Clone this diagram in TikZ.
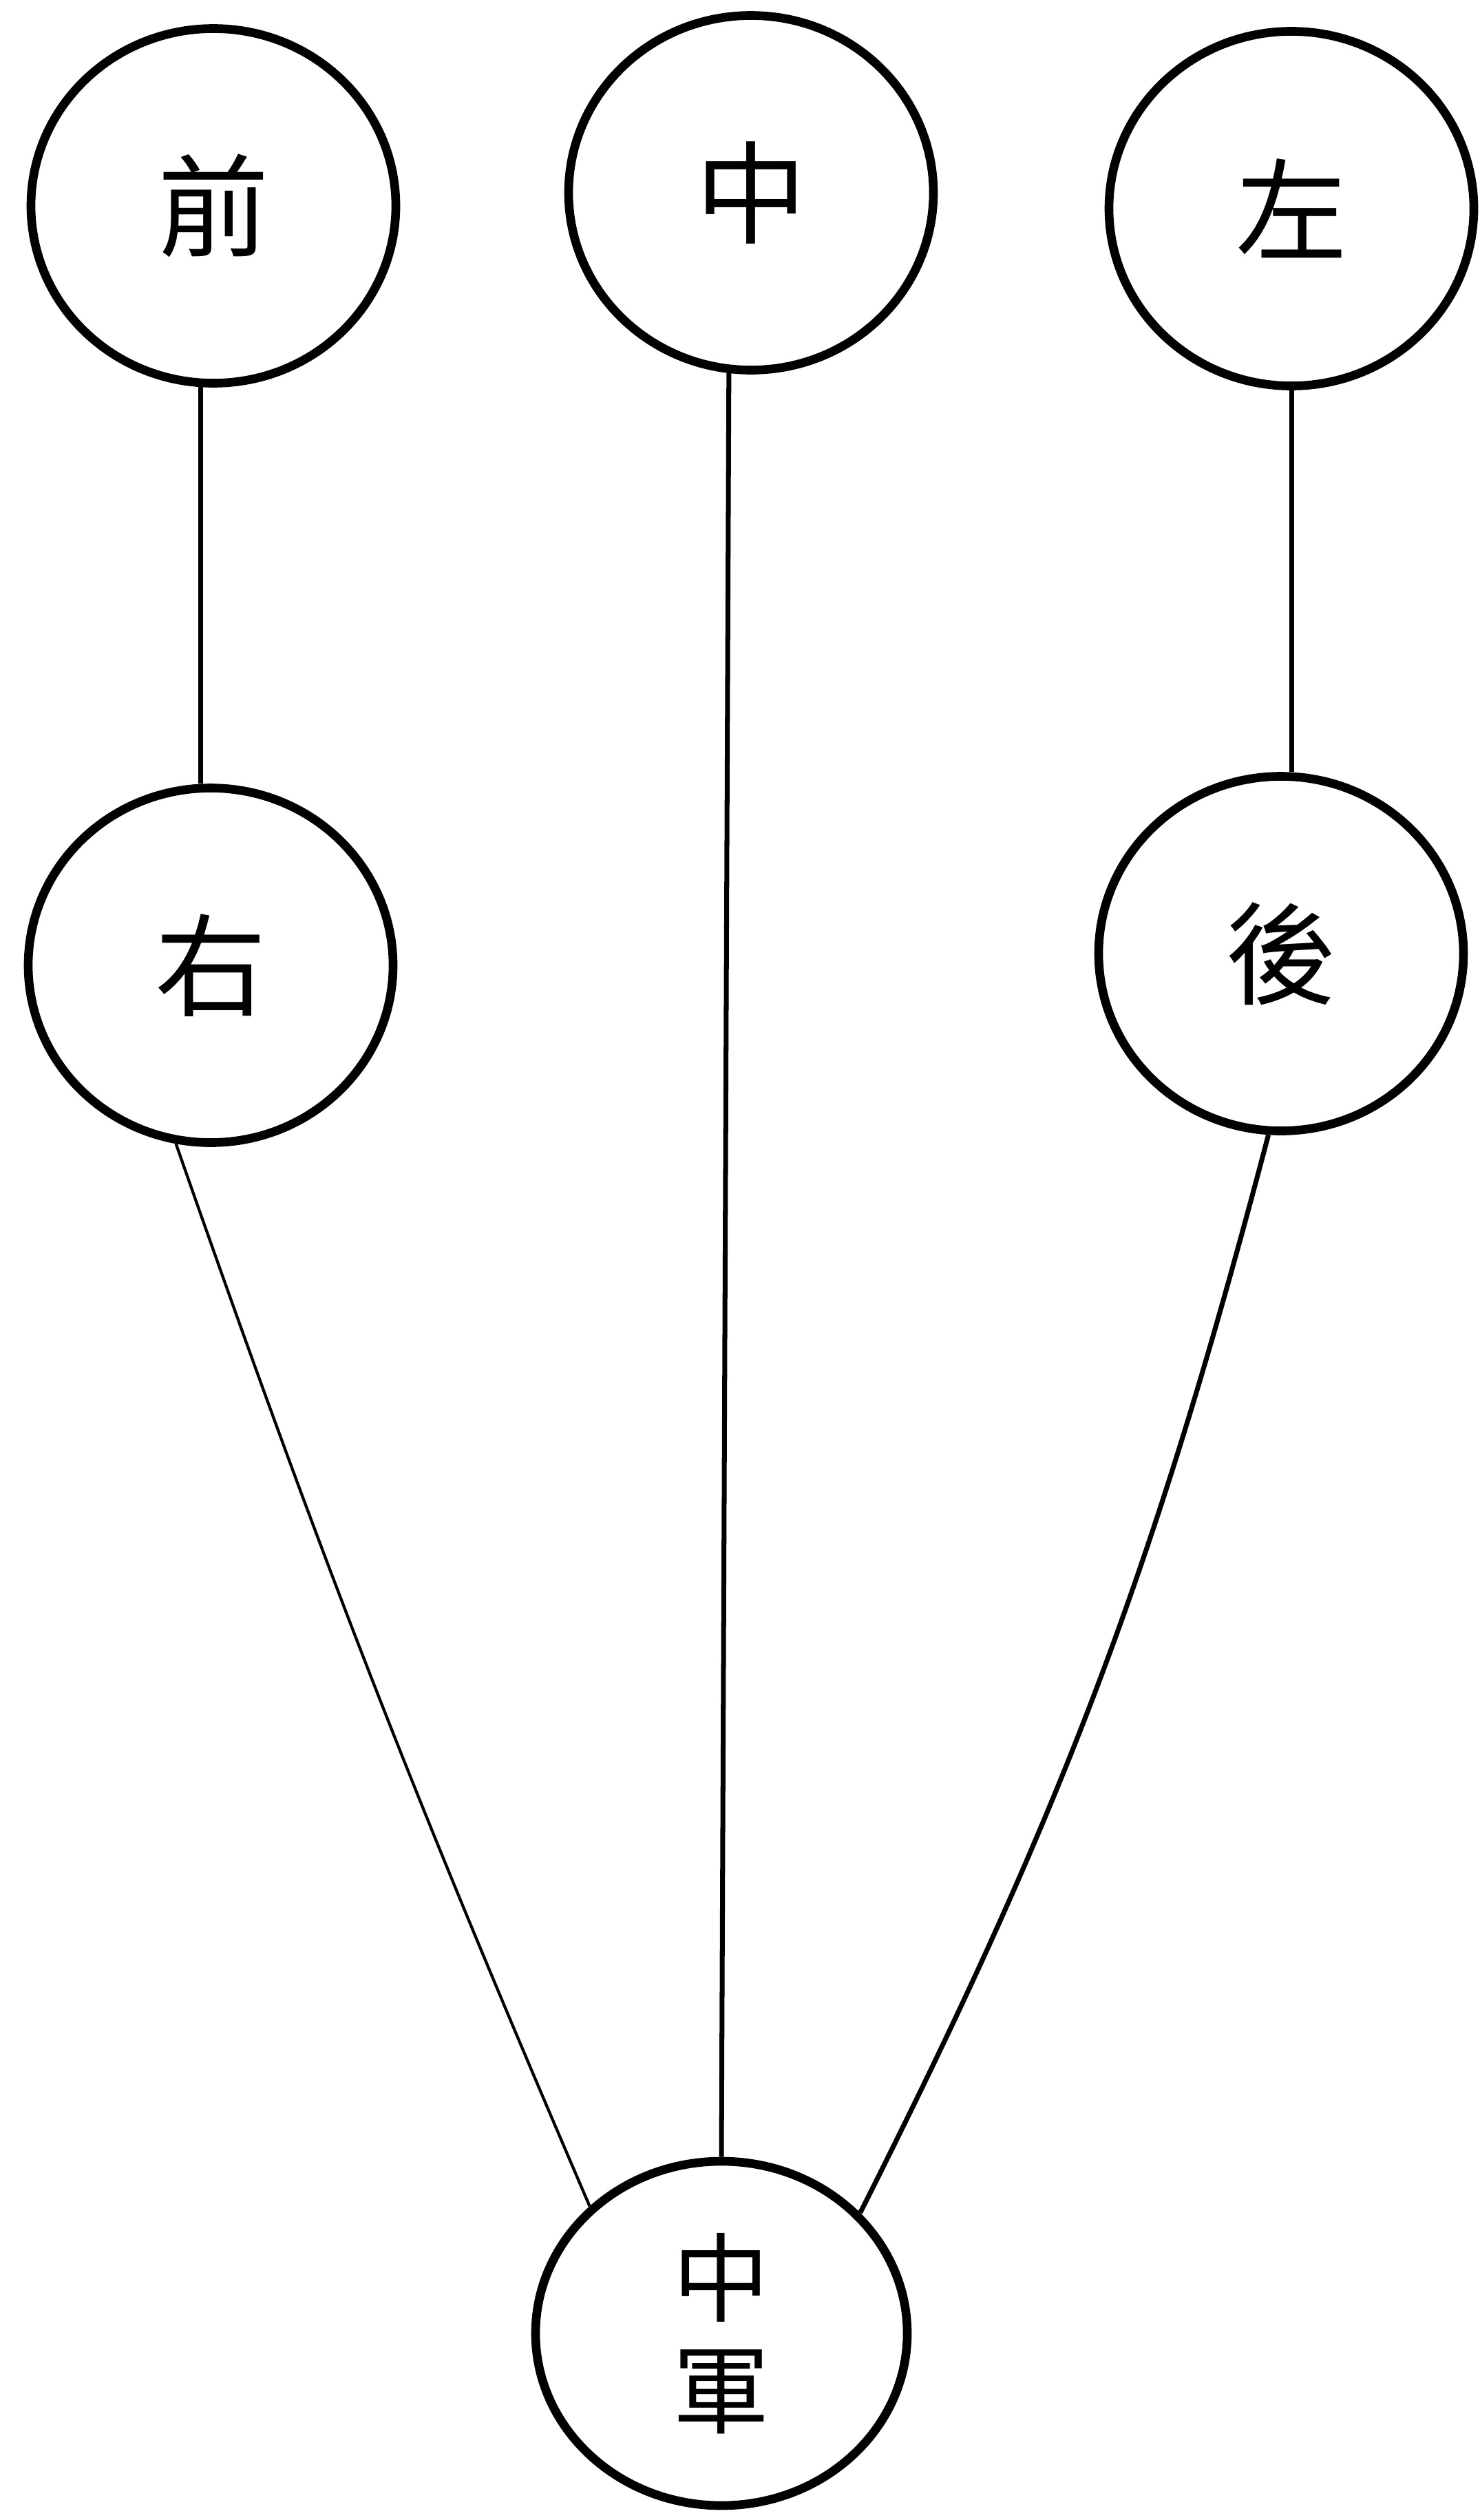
\documentclass[tikz,border=0pt]{standalone}
\usepackage{fontspec}
\newfontfamily\cjk{Noto Sans CJK TC}
\usepackage{tikz}
\usetikzlibrary{shapes.geometric, positioning, calc}

\begin{document}
\begin{tikzpicture}[
    camp/.style={draw, ellipse, line width=3.6pt, minimum width=5.3cm, minimum height=5.15cm, align=center, fill=white, font=\cjk\fontsize{46}{50}\selectfont},
    chief/.style={camp, minimum width=5.4cm, minimum height=5.0cm, font=\cjk\fontsize{40}{46}\selectfont},
    link/.style={line width=2pt},
    faint/.style={line width=1.2pt}
]
    \useasboundingbox (0,0) rectangle (21.49,-36.60);

    % ================= TOP ROW =================
    \node[camp] (qian) at (3.10, -2.99) {前};
    \node[camp] (zhong) at (10.91, -2.80) {中};
    \node[camp] (zuo) at (18.76, -3.03) {左};

    % ================= MIDDLE ROW =================
    \node[camp] (you) at (3.06, -14.02) {右};
    \node[camp] (hou) at (18.61, -13.85) {後};

    % ================= BOTTOM =================
    \node[chief] (zhongjun) at (10.48, -33.89) {中\\軍};

    % Connections
    \draw[link] (qian.266) -- (qian.266 |- you.north);
    \draw[link] (zuo.south) -- (zuo.south |- hou.north);
    \draw[link] (zhong.263) -- (zhongjun.north);
    \draw[faint] (you.259) to[bend right=2] (zhongjun.136);
    \draw[link] (hou.266) to[bend left=6] (zhongjun.41);

\end{tikzpicture}
\end{document}
